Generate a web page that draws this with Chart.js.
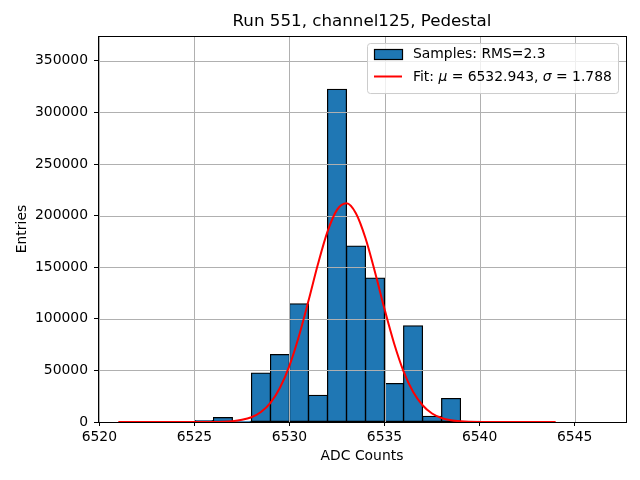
<!DOCTYPE html>
<html>
<head>
<meta charset="utf-8">
<script src="https://cdn.jsdelivr.net/npm/chart.js@4/dist/chart.umd.min.js"></script>
<style>
  html, body { margin: 0; padding: 0; background: #fff; }
  #c { display: block; }
</style>
</head>
<body>
<canvas id="c" width="640" height="480"></canvas>
<script>
// histogram bins (left edge of each 1-count bin) and entries
let binStart = [6525, 6526, 6527, 6528, 6529, 6530, 6531, 6532, 6533, 6534, 6535, 6536, 6537, 6538, 6539];
let counts = [1500, 4300, 800, 47400, 65300, 114500, 25800, 322500, 170500, 139500, 37300, 93300, 5600, 22800, 800];

// fit curve
let fitX = [6521, 6523, 6525, 6526, 6527, 6527.5, 6528, 6528.5, 6529, 6529.5, 6530, 6530.5, 6531, 6531.5,
            6532, 6532.5, 6533, 6533.5, 6534, 6534.5, 6535, 6535.5, 6536, 6536.5, 6537, 6537.5, 6538,
            6538.5, 6539, 6540, 6541, 6542, 6544];
let fitY = [0, 0, 10, 110, 850, 2100, 4650, 9700, 18600, 33200, 54700, 83400, 117400, 153100,
            184500, 205600, 211900, 202000, 178000, 145100, 109400, 76300, 49100, 29300, 16200, 8200, 3900,
            1700, 700, 90, 10, 0, 0];

let xTicks = [6520, 6525, 6530, 6535, 6540, 6545];
let yTicks = [0, 50000, 100000, 150000, 200000, 250000, 300000, 350000];

let fitMu = '6532.943';
let fitSigma = '1.788';
let rms = '2.3';

const FONT = '"DejaVu Sans", sans-serif';

let histData = binStart.map((b, i) => ({ x: b + 0.5, y: counts[i] }));
let fitData = fitX.map((x, i) => ({ x: x, y: fitY[i] }));

// grid goes over the bars but under the fit line, like matplotlib
const gridOverBars = {
  id: 'gridOverBars',
  afterDatasetDraw(chart, args) {
    if (args.meta.type !== 'bar') return;
    const ctx = chart.ctx, a = chart.chartArea;
    const xs = chart.scales.x, ys = chart.scales.y;
    ctx.save();
    ctx.strokeStyle = '#b0b0b0';
    ctx.lineWidth = 1;
    ctx.beginPath();
    xTicks.forEach(v => {
      const p = Math.round(xs.getPixelForValue(v)) + 0.5;
      ctx.moveTo(p, a.top); ctx.lineTo(p, a.bottom);
    });
    yTicks.forEach(v => {
      const p = Math.round(ys.getPixelForValue(v)) + 0.5;
      ctx.moveTo(a.left, p); ctx.lineTo(a.right, p);
    });
    ctx.stroke();
    ctx.restore();
  },
  afterDatasetsDraw(chart) {
    const ctx = chart.ctx, a = chart.chartArea;
    ctx.save();
    ctx.strokeStyle = '#000';
    ctx.lineWidth = 1;
    ctx.strokeRect(Math.round(a.left) + 0.5, Math.round(a.top) + 0.5,
                   Math.round(a.right - a.left), Math.round(a.bottom - a.top));
    ctx.restore();
  }
};

// legend box in the upper right of the axes
const boxLegend = {
  id: 'boxLegend',
  afterDraw(chart) {
    const ctx = chart.ctx, a = chart.chartArea;
    const x1 = a.right - 7.5, x0 = 367.5, y0 = a.top + 7.5, y1 = y0 + 50;
    ctx.save();
    ctx.beginPath();
    ctx.roundRect(x0, y0, x1 - x0, y1 - y0, 3);
    ctx.fillStyle = 'rgba(255,255,255,0.8)';
    ctx.fill();
    ctx.strokeStyle = '#cccccc';
    ctx.lineWidth = 1;
    ctx.stroke();

    // bar patch
    ctx.fillStyle = '#1f77b4';
    ctx.fillRect(374.5, 49.5, 28, 10);
    ctx.strokeStyle = '#000';
    ctx.lineWidth = 1.2;
    ctx.strokeRect(374.5, 49.5, 28, 10);
    // fit line
    ctx.strokeStyle = 'red';
    ctx.lineWidth = 2;
    ctx.beginPath();
    ctx.moveTo(374, 76.5); ctx.lineTo(402, 76.5);
    ctx.stroke();

    ctx.fillStyle = '#000';
    ctx.textBaseline = 'middle';
    ctx.font = '13.9px ' + FONT;
    ctx.fillText(chart.data.datasets[1].label, 413, 54.5);

    let tx = 413, ty = 77.5;
    const parts = [['Fit: ', false], ['\u03bc', true], [' = ' + fitMu + ', ', false], ['\u03c3', true], [' = ' + fitSigma, false]];
    parts.forEach(p => {
      ctx.font = (p[1] ? 'italic ' : '') + '13.9px ' + FONT;
      ctx.fillText(p[0], tx, ty);
      tx += ctx.measureText(p[0]).width;
    });
    ctx.restore();
  }
};

var ctx = document.getElementById('c').getContext('2d');
var chart = new Chart(ctx, {
  type: 'bar',
  data: {
    datasets: [{
      type: 'line',
      label: 'Fit',
      data: fitData,
      borderColor: 'red',
      borderWidth: 2,
      pointRadius: 0,
      cubicInterpolationMode: 'monotone',
      fill: false,
      order: 0
    }, {
      type: 'bar',
      label: 'Samples: RMS=' + rms,
      data: histData,
      backgroundColor: '#1f77b4',
      borderColor: '#000',
      borderWidth: 1.2,
      borderSkipped: false,
      inflateAmount: 0.5,
      barPercentage: 1,
      categoryPercentage: 1,
      order: 1
    }]
  },
  options: {
    responsive: false,
    animation: false,
    devicePixelRatio: 1,
    layout: { padding: { left: 0, right: 14, top: 0, bottom: 0 } },
    plugins: {
      legend: { display: false },
      tooltip: { enabled: false },
      title: {
        display: true,
        fullSize: false,
        text: 'Run 551, channel125, Pedestal',
        color: '#000',
        font: { family: FONT, size: 16.7, weight: 'normal' },
        padding: { top: 12, bottom: 4 }
      }
    },
    scales: {
      x: {
        type: 'linear',
        min: 6519.93,
        max: 6547.7,
        offset: false,
        afterBuildTicks: s => { s.ticks = xTicks.map(v => ({ value: v })); },
        afterFit: s => { s.height = 58; },
        ticks: {
          color: '#000',
          font: { family: FONT, size: 13.9 },
          padding: 3,
          maxRotation: 0,
          callback: v => String(v)
        },
        grid: { drawOnChartArea: false, tickLength: 4, tickColor: '#000', offset: false },
        border: { color: '#000' },
        title: {
          display: true,
          text: 'ADC Counts',
          color: '#000',
          font: { family: FONT, size: 13.9 },
          padding: { top: 15, bottom: 15 }
        }
      },
      y: {
        min: 0,
        max: 374000,
        afterBuildTicks: s => { s.ticks = yTicks.map(v => ({ value: v })); },
        afterFit: s => { s.width = 98; },
        ticks: {
          color: '#000',
          font: { family: FONT, size: 13.9 },
          padding: 6,
          callback: v => String(v)
        },
        grid: { drawOnChartArea: false, tickLength: 4, tickColor: '#000' },
        border: { color: '#000' },
        title: {
          display: true,
          text: 'Entries',
          color: '#000',
          font: { family: FONT, size: 13.9 },
          padding: { top: 14, bottom: 14 }
        }
      }
    }
  },
  plugins: [gridOverBars, boxLegend]
});
</script>
</body>
</html>
